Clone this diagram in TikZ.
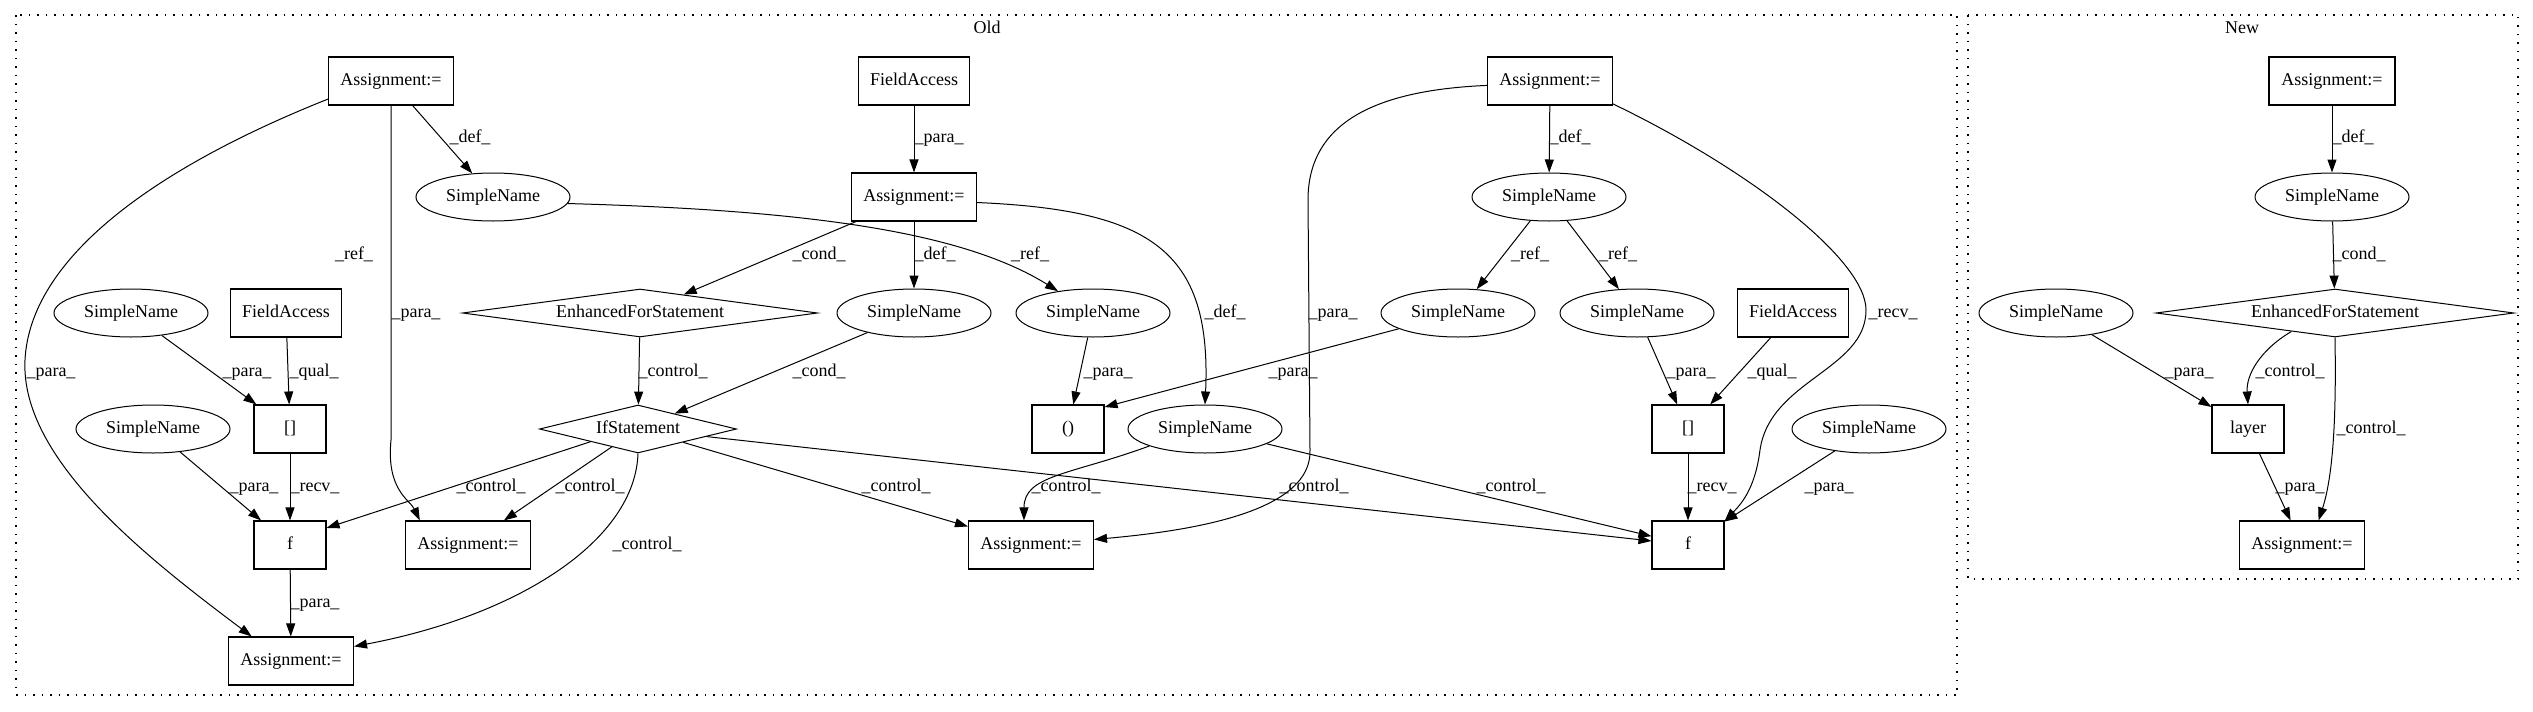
\documentclass[tikz,border=0pt]{standalone}
\usepackage{fontspec}
\setmainfont{Liberation Serif}
\usetikzlibrary{shapes.geometric,arrows.meta}
\begin{document}
\begin{tikzpicture}[x=1pt,y=-1pt,
  every node/.style={font=\fontsize{18}{21}\selectfont, text height=12pt, text depth=4pt, inner sep=0pt},
  box/.style={draw, rectangle, line width=1.1pt, minimum height=48pt},
  ell/.style={draw, ellipse, line width=1.0pt, minimum width=154pt, minimum height=48pt},
  dia/.style={draw, diamond, line width=1.0pt, minimum height=48pt, aspect=6},
  arr/.style={-{Triangle[length=13pt,width=9pt]}, line width=1.0pt},
  lbl/.style={},
  cluster/.style={draw, line width=1.3pt, dash pattern=on 1.5pt off 7pt}
]
\useasboundingbox (0,0) rectangle (2533,712);
\draw[cluster] (16,15) rectangle (1957,695);
\draw[cluster] (1968,15) rectangle (2518,579);
\node (oldlbl) at (987,30) {Old};
\node (newlbl) at (2242,30) {New};

% Old
\node[box, minimum width=125pt] (a1) at (391,81) {Assignment:=};
\node[ell] (s1) at (493,197) {SimpleName};
\node[ell] (s2) at (131,313) {SimpleName};
\node[box, minimum width=111pt] (fa1) at (286,313) {FieldAccess};
\node[dia, minimum width=355pt] (efs) at (640,313) {EnhancedForStatement};
\node[box, minimum width=72pt] (b1) at (290,429) {[]};
\node[ell] (s3) at (153,429) {SimpleName};
\node[box, minimum width=72pt] (f1) at (290,545) {f};
\node[box, minimum width=125pt] (a4) at (468,545) {Assignment:=};
\node[dia, minimum width=197pt] (ifs) at (638,429) {IfStatement};
\node[box, minimum width=125pt] (a3) at (291,661) {Assignment:=};
\node[box, minimum width=111pt] (fa2) at (914,81) {FieldAccess};
\node[box, minimum width=125pt] (a2) at (914,197) {Assignment:=};
\node[ell] (s4) at (914,313) {SimpleName};
\node[ell] (s5) at (1093,313) {SimpleName};
\node[box, minimum width=72pt] (p1) at (1068,429) {()};
\node[ell] (s6) at (1205,429) {SimpleName};
\node[box, minimum width=125pt] (a5) at (1031,545) {Assignment:=};
\node[box, minimum width=125pt] (a6) at (1550,81) {Assignment:=};
\node[ell] (s7) at (1549,197) {SimpleName};
\node[ell] (s8) at (1458,313) {SimpleName};
\node[ell] (s9) at (1637,313) {SimpleName};
\node[box, minimum width=111pt] (fa3) at (1793,313) {FieldAccess};
\node[box, minimum width=72pt] (b2) at (1688,429) {[]};
\node[ell] (s10) at (1869,429) {SimpleName};
\node[box, minimum width=72pt] (f2) at (1688,545) {f};

% New
\node[box, minimum width=126pt] (n1) at (2332,81) {Assignment:=};
\node[ell] (n2) at (2332,197) {SimpleName};
\node[dia, minimum width=358pt] (n3) at (2335,313) {EnhancedForStatement};
\node[ell] (n4) at (2056,313) {SimpleName};
\node[box, minimum width=72pt] (n5) at (2248,429) {layer};
\node[box, minimum width=125pt] (n6) at (2302,545) {Assignment:=};

% Old edges
\draw[arr] (a1) -- (s1);
\draw[arr] (a1.196) .. controls (150,170) and (30,260) .. (25,360) .. controls (20,460) and (150,560) .. (a3.148);
\draw[arr] (a1.south) -- (391,440) .. controls (386,490) and (410,500) .. (a4.153);
\draw[arr] (s1.-5) .. controls (800,210) and (960,230) .. (s5.148);
\draw[arr] (s2) -- (b1);
\draw[arr] (fa1) -- (b1);
\draw[arr] (b1) -- (f1);
\draw[arr] (s3) -- (f1);
\draw[arr] (f1) -- (a3);
\draw[arr] (fa2) -- (a2);
\draw[arr] (a2) -- (efs);
\draw[arr] (a2) -- (s4);
\draw[arr] (a2.-5) .. controls (1150,210) and (1212,250) .. (s6.north);
\draw[arr] (efs) -- (ifs);
\draw[arr] (s4) -- (ifs);
\draw[arr] (ifs.195) -- (f1.25);
\draw[arr] (ifs) -- (a4);
\draw[arr] (ifs.south) .. controls (635,540) and (520,615) .. (a3.13);
\draw[arr] (ifs) -- (a5);
\draw[arr] (ifs) -- (f2);
\draw[arr] (s5) -- (p1);
\draw[arr] (s8) -- (p1.31);
\draw[arr] (s6.197) .. controls (1070,475) and (1024,475) .. (a5.106);
\draw[arr] (s6) -- (f2);
\draw[arr] (a6) -- (s7);
\draw[arr] (a6.184) .. controls (1380,90) and (1308,120) .. (1308,200) -- (1310,450) .. controls (1312,510) and (1200,530) .. (a5.5);
\draw[arr] (a6.-20) .. controls (1750,170) and (1866,260) .. (1866,310) .. controls (1866,370) and (1770,380) .. (1760,450) .. controls (1755,490) and (1740,505) .. (f2.33);
\draw[arr] (s7) -- (s8);
\draw[arr] (s7) -- (s9);
\draw[arr] (s9) -- (b2);
\draw[arr] (fa3) -- (b2);
\draw[arr] (b2) -- (f2);
\draw[arr] (s10) -- (f2);

% New edges
\draw[arr] (n1) -- (n2);
\draw[arr] (n2) -- (n3);
\draw[arr] (n4) -- (n5);
\draw[arr] (n3.203) .. controls (2260,350) and (2246,375) .. (n5.north);
\draw[arr] (n3.south) .. controls (2336,400) and (2335,470) .. (n6.56);
\draw[arr] (n5) -- (n6);

% labels
\foreach \x/\y/\t [count=\i] in {
 470/138/\_def\_, 354/255/\_ref\_, 416/313/\_para\_, 51/372/\_para\_,
 247/372/\_para\_, 314/372/\_qual\_, 673/372/\_control\_, 254/487/\_para\_,
 315/487/\_recv\_, 491/487/\_control\_, 590/487/\_control\_, 647/545/\_control\_,
 315/603/\_para\_, 939/138/\_para\_, 819/255/\_cond\_, 935/255/\_def\_,
 1030/255/\_ref\_, 1225/313/\_def\_, 1333/313/\_para\_, 819/372/\_cond\_,
 1108/372/\_para\_, 1293/372/\_para\_, 896/487/\_control\_, 1066/487/\_control\_,
 1314/487/\_control\_, 1570/138/\_def\_, 1530/255/\_ref\_, 1618/255/\_ref\_,
 1893/313/\_recv\_, 1691/372/\_para\_, 1772/372/\_qual\_, 1712/487/\_recv\_,
 1829/487/\_para\_, 1511/487/\_control\_,
 2353/138/\_def\_, 2359/255/\_cond\_, 2189/372/\_para\_, 2290/372/\_control\_,
 2371/429/\_control\_, 2300/487/\_para\_}
 \node[lbl] (l\i) at (\x,\y) {\t};
\end{tikzpicture}
\end{document}
